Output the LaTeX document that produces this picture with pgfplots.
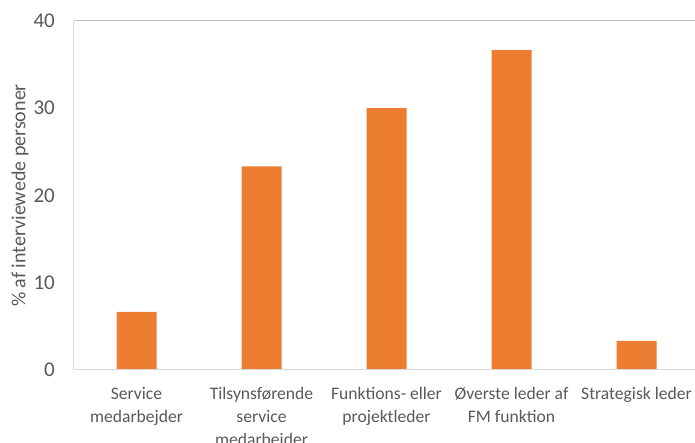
\documentclass[border=0pt]{standalone}
\usepackage{pgfplots}
\pgfplotsset{compat=1.18}
\usepackage{fontspec}
\setmainfont{Carlito}
\definecolor{barorange}{HTML}{ED7D31}
\definecolor{txtgray}{HTML}{595959}
\definecolor{linegray}{HTML}{D9D9D9}
\definecolor{topgray}{HTML}{BFBFBF}
\begin{document}
\begin{tikzpicture}
\useasboundingbox (0,0) rectangle (695pt,443pt);
\begin{axis}[
    at={(74pt,73pt)}, anchor=south west,
    scale only axis,
    width=621pt, height=349pt,
    xmin=-0.5, xmax=4.468,
    ymin=0, ymax=40,
    ytick={0,10,...,40},
    xtick=data,
    xticklabels={
        Service\\medarbejder,
        Tilsynsførende\\service\\medarbeider,
        Funktions- eller\\projektleder,
        Øverste leder af\\FM funktion,
        Strategisk leder
    },
    major tick length=0pt,
    axis line style={draw=none},
    /pgf/number format/assume math mode=true,
    yticklabel style={font=\fontsize{21}{22}\selectfont, text=txtgray,
        anchor=east, inner sep=0pt, xshift=-19pt},
    xticklabel style={font=\fontsize{17.6}{23}\selectfont, text=txtgray,
        anchor=north, align=center, inner sep=0pt, yshift=-17pt},
    ylabel={\% af interviewede personer},
    ylabel style={font=\fontsize{20}{22}\selectfont, text=txtgray,
        at={(axis description cs:0,0.5)}, anchor=center, yshift=54pt},
    ybar, bar width=40pt,
    clip=false,
    ]
\addplot[fill=barorange, draw=none, bar shift=0pt] coordinates {
    (0,6.67) (1,23.33) (2,30.0) (3,36.67) (4,3.33)};
\draw[linegray, line width=1pt] (rel axis cs:0,1) -- (rel axis cs:0,0) -- (rel axis cs:1,0);
\draw[topgray, line width=1pt] (rel axis cs:0,1) -- (rel axis cs:1,1);
\end{axis}
\end{tikzpicture}
\end{document}
